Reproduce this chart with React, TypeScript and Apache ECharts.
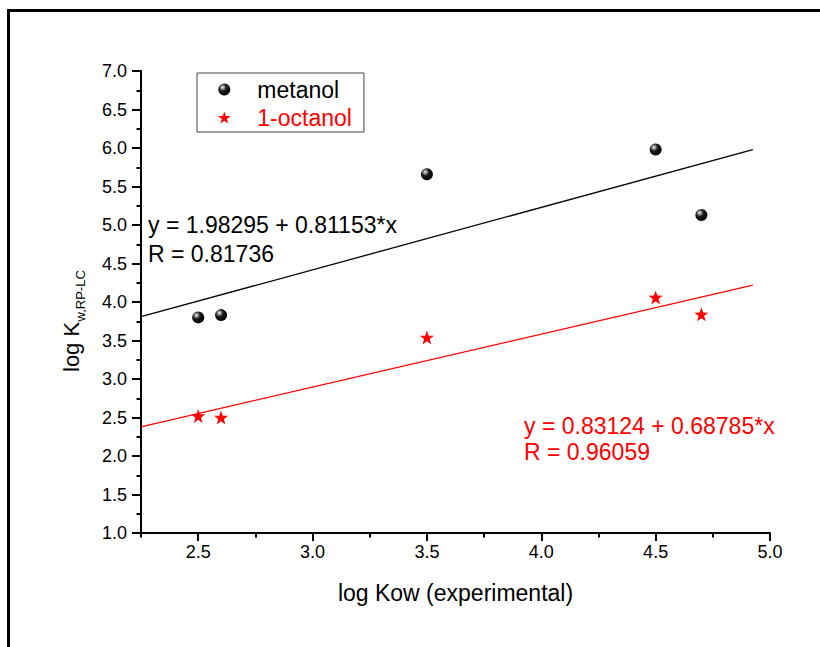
import React, { useEffect, useRef } from "react";
import * as echarts from "echarts";

// ---- data ----
const logKow = [2.5, 2.6, 3.5, 4.5, 4.7];
const metanolLogK = [3.8, 3.83, 5.66, 5.98, 5.13];
const octanolLogK = [2.52, 2.5, 3.54, 4.06, 3.84];

const metanolFit = { intercept: 1.98295, slope: 0.81153, r: 0.81736 };
const octanolFit = { intercept: 0.83124, slope: 0.68785, r: 0.96059 };
const fitRangeX = [2.25, 4.925];

const xTickValues = [2.5, 3.0, 3.5, 4.0, 4.5, 5.0];
const xMinorTickValues = [2.25, 2.75, 3.25, 3.75, 4.25, 4.75];

const FONT = "'Liberation Sans', Arial, Helvetica, sans-serif";
const STAR =
  "path://M1,0L1.235,0.676L1.951,0.691L1.380,1.124L1.588,1.809L1,1.4L0.412,1.809L0.620,1.124L0.049,0.691L0.765,0.676Z";

const sphere = {
  type: "radial",
  x: 0.36,
  y: 0.32,
  r: 0.7,
  colorStops: [
    { offset: 0, color: "#ffffff" },
    { offset: 0.18, color: "#9a9a9a" },
    { offset: 0.45, color: "#1a1a1a" },
    { offset: 1, color: "#000000" },
  ],
};

function fitLine(fit: { intercept: number; slope: number }) {
  return fitRangeX.map((x) => [x, fit.intercept + fit.slope * x]);
}

export default function App() {
  const ref = useRef<HTMLDivElement>(null);
  useEffect(() => {
    if (!ref.current) return;
    const chart = echarts.init(ref.current, undefined, { renderer: "svg" });
    const axisCommon = {
      axisLine: { show: true, lineStyle: { color: "#000", width: 2 } },
      splitLine: { show: false },
    };
    chart.setOption({
      animation: false,
      backgroundColor: "#fff",
      grid: { left: 141, top: 71, right: 50, bottom: 114, containLabel: false },
      legend: {
        orient: "vertical",
        left: 197,
        top: 73,
        padding: [5, 12, 3, 21],
        itemWidth: 56,
        itemHeight: 12,
        itemGap: 5,
        borderColor: "#444",
        borderWidth: 1,
        selectedMode: false,
        textStyle: { fontSize: 23, fontFamily: FONT, color: "#000" },
        data: [
          { name: "metanol", icon: "circle", textStyle: { color: "#000" } },
          { name: "1-octanol", icon: STAR, textStyle: { color: "#ff0000" } },
        ],
      },
      xAxis: [
        {
          type: "value",
          min: 2.25,
          max: 5.0,
          interval: 0.25,
          ...axisCommon,
          axisTick: {
            show: true,
            customValues: xTickValues,
            length: 8,
            lineStyle: { color: "#000", width: 2 },
          },
          axisLabel: {
            customValues: xTickValues,
            formatter: (v: number) => v.toFixed(1),
            margin: 10,
            fontSize: 18,
            fontFamily: FONT,
            color: "#000",
          },
          name: "log Kow (experimental)",
          nameLocation: "middle",
          nameGap: 48,
          nameTextStyle: { fontSize: 23, fontFamily: FONT, color: "#000" },
        },
        {
          type: "value",
          position: "bottom",
          min: 2.25,
          max: 5.0,
          interval: 0.25,
          axisLine: { show: false },
          splitLine: { show: false },
          axisTick: {
            show: true,
            customValues: xMinorTickValues,
            length: 4.5,
            lineStyle: { color: "#000", width: 2 },
          },
          axisLabel: { show: false },
        },
      ],
      yAxis: {
        type: "value",
        min: 1,
        max: 7,
        interval: 0.5,
        ...axisCommon,
        axisTick: { show: true, length: 9, lineStyle: { color: "#000", width: 2 } },
        minorTick: {
          show: true,
          splitNumber: 2,
          length: 4.5,
          lineStyle: { color: "#000", width: 2 },
        },
        axisLabel: {
          formatter: (v: number) => v.toFixed(1),
          margin: 14,
          fontSize: 18,
          fontFamily: FONT,
          color: "#000",
        },
      },
      series: [
        {
          name: "fit metanol",
          type: "line",
          data: fitLine(metanolFit),
          showSymbol: false,
          symbol: "none",
          lineStyle: { color: "#000", width: 1.3 },
          z: 1,
        },
        {
          name: "fit 1-octanol",
          type: "line",
          data: fitLine(octanolFit),
          showSymbol: false,
          symbol: "none",
          lineStyle: { color: "#ff0000", width: 1.3 },
          z: 1,
        },
        {
          name: "metanol",
          type: "scatter",
          symbol: "circle",
          symbolSize: 12,
          itemStyle: { color: sphere, opacity: 1 },
          data: logKow.map((x, i) => [x, metanolLogK[i]]),
          z: 3,
        },
        {
          name: "1-octanol",
          type: "scatter",
          symbol: STAR,
          symbolSize: 14,
          itemStyle: { color: "#ff0000", opacity: 1 },
          data: logKow.map((x, i) => [x, octanolLogK[i]]),
          z: 3,
        },
      ],
      graphic: [
        {
          type: "polyline",
          shape: { points: [[8.5, 647], [8.5, 10.5], [820, 10.5]] },
          style: { stroke: "#000", lineWidth: 3, fill: "none" },
          silent: true,
        },
        {
          type: "group",
          x: 79,
          y: 372,
          rotation: Math.PI / 2,
          children: [
            {
              type: "text",
              x: 0,
              y: -7.6,
              style: {
                text: "log K",
                fontSize: 22,
                fontFamily: FONT,
                fill: "#000",
                textAlign: "left",
                textVerticalAlign: "middle",
              },
            },
            {
              type: "text",
              x: 50.5,
              y: 1.5,
              style: {
                text: "w,RP-LC",
                fontSize: 13,
                fontFamily: FONT,
                fill: "#000",
                textAlign: "left",
                textVerticalAlign: "middle",
              },
            },
          ],
        },
        {
          type: "text",
          left: 148,
          top: 210,
          style: {
            text: `y = ${metanolFit.intercept} + ${metanolFit.slope}*x\nR = ${metanolFit.r}`,
            fontSize: 23,
            lineHeight: 29,
            fontFamily: FONT,
            fill: "#000",
          },
        },
        {
          type: "text",
          left: 524,
          top: 413,
          style: {
            text: `y = ${octanolFit.intercept} + ${octanolFit.slope}*x\nR = ${octanolFit.r}`,
            fontSize: 23,
            lineHeight: 26,
            fontFamily: FONT,
            fill: "#ff0000",
          },
        },
      ],
    });
    return () => chart.dispose();
  }, []);
  return (
    <div
      ref={ref}
      style={{ position: "absolute", left: 0, top: 0, width: 820, height: 647 }}
    />
  );
}
